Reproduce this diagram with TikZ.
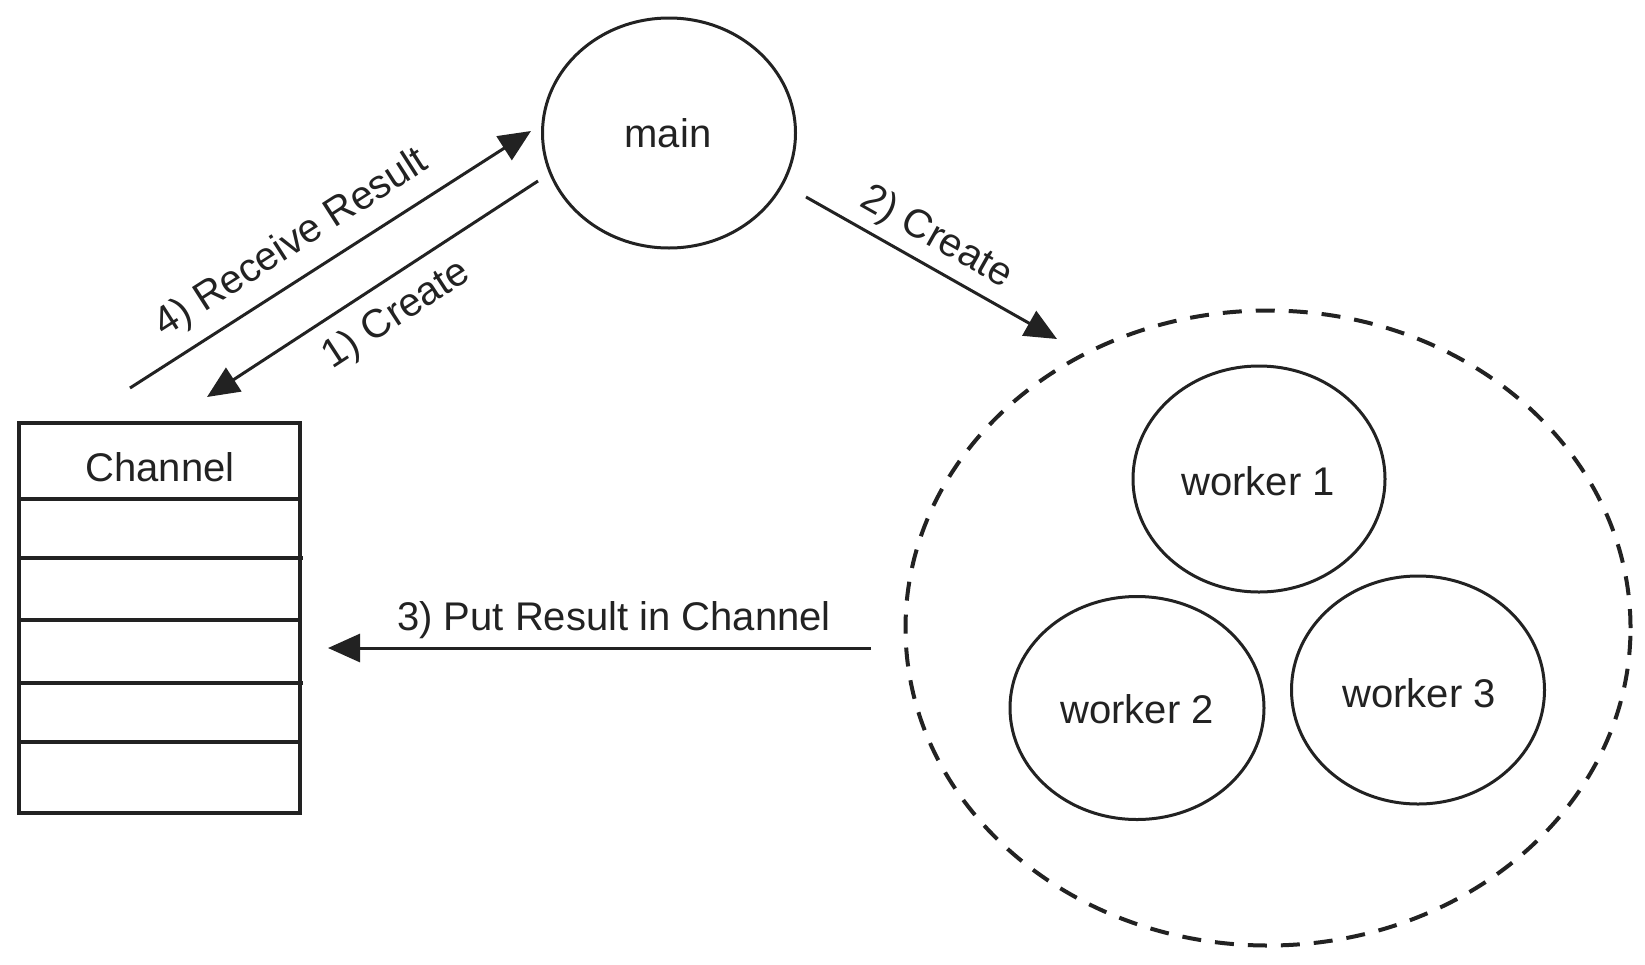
\documentclass[tikz,border=0pt]{standalone}
\usepackage{fontspec}
\setmainfont{Liberation Sans}
\usetikzlibrary{shapes.geometric,arrows.meta}
\definecolor{ink}{HTML}{222222}
\begin{document}
\begin{tikzpicture}[x=1pt,y=-1pt,
  lbl/.style={font=\fontsize{40}{48}\selectfont, text=ink, inner sep=0pt},
  proc/.style={ellipse, draw=ink, line width=3pt, inner sep=0pt},
  arr/.style={draw=ink, line width=3pt, -{Triangle[length=32pt,width=28pt]}},
  boxline/.style={draw=ink, line width=3.5pt},
]
\useasboundingbox (0,0) rectangle (1645,964);
% main
\node[proc, minimum width=253pt, minimum height=230pt] (main) at (669,133) {};
\node[lbl] (maintxt) at (668,133) {main};
% worker group
\node[ellipse, draw=ink, line width=4pt, dash pattern=on 19pt off 14pt,
      minimum width=725pt, minimum height=635pt, inner sep=0pt] (group) at (1268,628) {};
\node[proc, minimum width=252pt, minimum height=226pt] (w1) at (1259,479) {};
\node[lbl] (w1t) at (1258,481) {worker 1};
\node[proc, minimum width=254pt, minimum height=223pt] (w2) at (1137,708) {};
\node[lbl] (w2t) at (1137,709) {worker 2};
\node[proc, minimum width=253pt, minimum height=228pt] (w3) at (1418,690) {};
\node[lbl] (w3t) at (1419,693) {worker 3};
% channel
\draw[boxline] (19,423) rectangle (300,813);
\draw[boxline] (19,499) -- (300,499);
\draw[boxline] (19,558) -- (303,558);
\draw[boxline] (19,620) -- (300,620);
\draw[boxline] (19,683) -- (303,683);
\draw[boxline] (19,742) -- (300,742);
\node[lbl] (chan) at (160,467) {Channel};
% arrow ends
\coordinate (a4s) at (130,388);
\coordinate (a4e) at (531,131);
\coordinate (a1s) at (538,181);
\coordinate (a1e) at (207,397);
\coordinate (a2s) at (806,197);
\coordinate (a2e) at (1057,339);
\coordinate (a3s) at (871,648);
\coordinate (a3e) at (328,648);
\draw[arr] (a4s) -- (a4e);
\draw[arr] (a1s) -- (a1e);
\draw[arr] (a2s) -- (a2e);
\draw[arr] (a3s) -- (a3e);
% labels
\node[lbl, rotate=32.7] (l4) at (292,244) {4) Receive Result};
\node[lbl, rotate=33.1] (l1) at (397,315) {1) Create};
\node[lbl, rotate=-29.5] (l2) at (936,238) {2) Create};
\node[lbl] (l3) at (614,620) {3) Put Result in Channel};
\end{tikzpicture}
\end{document}
